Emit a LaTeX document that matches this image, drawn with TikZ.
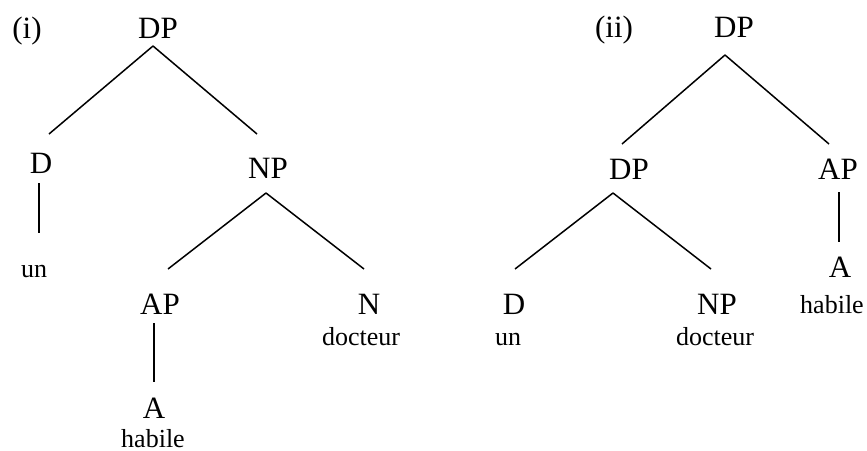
\documentclass[tikz,border=0pt]{standalone}
\usepackage{fontspec}
\setmainfont{Liberation Serif}
\begin{document}
\begin{tikzpicture}[x=1pt,y=-1pt,
  big/.style={anchor=base,inner sep=0pt,font=\fontsize{31}{31}\selectfont},
  small/.style={anchor=base,inner sep=0pt,font=\fontsize{26}{26}\selectfont},
  branch/.style={line width=1.5pt}]
\useasboundingbox (0,0) rectangle (867,450);
% tree (i)
\node[big] (lab1) at (27,38) {(i)};
\node[big] (dp1) at (158,38) {DP};
\node[big] (d1) at (41,173) {D};
\node[big] (np1) at (268,178) {NP};
\node[small] (un1) at (34,277) {un};
\node[big] (ap1) at (160,314) {AP};
\node[big] (n1) at (369,314) {N};
\node[small] (doc1) at (361,345) {docteur};
\node[big] (a1) at (154,418) {A};
\node[small] (hab1) at (153,447) {habile};
\draw[branch] ([shift={(-5,8)}]dp1.base) -- ([shift={(8,-39)}]d1.base);
\draw[branch] ([shift={(-5,8)}]dp1.base) -- ([shift={(-11,-44)}]np1.base);
\draw[branch] ([shift={(-2,10)}]d1.base) -- ([shift={(5,-44)}]un1.base);
\draw[branch] ([shift={(-2,15)}]np1.base) -- ([shift={(8,-45)}]ap1.base);
\draw[branch] ([shift={(-2,15)}]np1.base) -- ([shift={(-5,-45)}]n1.base);
\draw[branch] ([shift={(-6,9)}]ap1.base) -- ([shift={(0,-36)}]a1.base);
% tree (ii)
\node[big] (lab2) at (614,37) {(ii)};
\node[big] (dp2) at (734,37) {DP};
\node[big] (dp3) at (629,179) {DP};
\node[big] (ap2) at (838,179) {AP};
\node[big] (a2) at (840,277) {A};
\node[small] (hab2) at (832,313) {habile};
\node[big] (d2) at (514,314) {D};
\node[small] (un2) at (508,345) {un};
\node[big] (np2) at (717,314) {NP};
\node[small] (doc2) at (715,345) {docteur};
\draw[branch] ([shift={(-9,18)}]dp2.base) -- ([shift={(-7,-35)}]dp3.base);
\draw[branch] ([shift={(-9,18)}]dp2.base) -- ([shift={(-9,-35)}]ap2.base);
\draw[branch] ([shift={(-16,14)}]dp3.base) -- ([shift={(1,-45)}]d2.base);
\draw[branch] ([shift={(-16,14)}]dp3.base) -- ([shift={(-6,-45)}]np2.base);
\draw[branch] ([shift={(1,13)}]ap2.base) -- ([shift={(-1,-35)}]a2.base);
\end{tikzpicture}
\end{document}
